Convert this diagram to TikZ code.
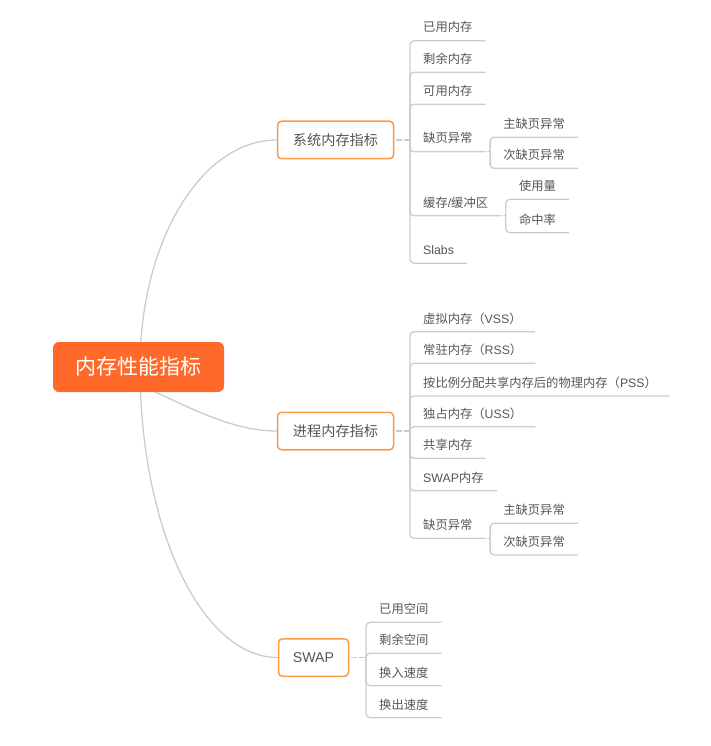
\documentclass[tikz,border=0pt]{standalone}
\usepackage{fontspec}
\setmainfont{Noto Sans CJK SC}
\newfontfamily\lat{Liberation Sans}
\definecolor{txt}{HTML}{555555}
\definecolor{ln}{HTML}{C9CCCE}
\definecolor{obord}{HTML}{FA9A48}
\definecolor{rootc}{HTML}{FF6A2A}
\begin{document}
\begin{tikzpicture}[x=1pt,y=-1pt,
 leaf/.style={anchor=south west, inner xsep=13pt, inner ysep=0pt, minimum height=26pt,
   font=\fontsize{12.3}{14}\selectfont, text=txt, text height=9pt, text depth=0pt},
 branch/.style={draw=obord, line width=1.5pt, rounded corners=4pt, fill=white, text=txt,
   font=\fontsize{14.2}{16}\selectfont, minimum height=37.5pt, text height=10.4pt, text depth=0pt},
 rootbox/.style={fill=rootc, rounded corners=6pt, text=white, font=\fontsize{21}{24}\selectfont,
   minimum width=171pt, minimum height=50pt, text height=15.4pt, text depth=0pt},
 conn/.style={draw=ln, line width=1.3pt},
 tree/.style={conn, rounded corners=4pt},
 dconn/.style={conn, dash pattern=on 6pt off 2pt},
]
\useasboundingbox (0,0) rectangle (710,746);

% branch boxes
\node[branch, minimum width=116pt] (sys) at (335.5,140) {系统内存指标};
\node[branch, minimum width=116pt] (proc) at (335.5,431) {进程内存指标};
\node[branch, minimum width=70pt] (swp) at (313.5,657.5) {\lat SWAP};

% curves from root
\coordinate (rc) at (140,367);
\coordinate (rc2) at (140,385);
\draw[conn] (rc) .. controls (140,242) and (201,140) .. (sys.west);
\draw[conn] (rc2) .. controls (185,405) and (230,431) .. (proc.west);
\draw[conn] (rc) .. controls (140,527) and (201,657.5) .. (swp.west);

\node[rootbox] (root) at (138.5,367) {内存性能指标};

% ---------- system ----------
\coordinate (sV) at (410,140);
\draw[dconn] ([xshift=2pt]sys.east) -- (sV);
\node[leaf] (a1) at (410,40.7) {已用内存};
\node[leaf] (a2) at (410,72.3) {剩余内存};
\node[leaf] (a3) at (410,104.3) {可用内存};
\node[leaf] (a4) at (410,151.7) {缺页异常};
\node[leaf] (a5) at (410,215.7) {缓存{\lat /}缓冲区};
\node[leaf] (a6) at (410,263.3) {\lat Slabs};
\foreach \i in {1,...,6} \draw[tree] (sV) |- (a\i.south east);

\coordinate (a4V) at ([xshift=4.5pt]a4.south east);
\draw[conn] ([xshift=1.5pt]a4.south east) -- (a4V);
\node[leaf] (a41) at ([yshift=14.5pt]a4V) {主缺页异常};
\node[leaf] (a42) at ([yshift=-16.6pt]a4V) {次缺页异常};
\draw[tree] (a4V) |- (a41.south east);
\draw[tree] (a4V) |- (a42.south east);

\coordinate (a5V) at ([xshift=4.5pt]a5.south east);
\draw[conn] ([xshift=1.5pt]a5.south east) -- (a5V);
\node[leaf] (a51) at ([yshift=16.4pt]a5V) {使用量};
\node[leaf] (a52) at ([yshift=-17pt]a5V) {命中率};
\draw[tree] (a5V) |- (a51.south east);
\draw[tree] (a5V) |- (a52.south east);

% ---------- process ----------
\coordinate (pV) at (410,431);
\draw[dconn] ([xshift=2pt]proc.east) -- (pV);
\node[leaf] (b1) at (410,331.7) {虚拟内存（{\lat VSS}）};
\node[leaf] (b2) at (410,363.3) {常驻内存（{\lat RSS}）};
\node[leaf] (b3) at (410,396) {按比例分配共享内存后的物理内存（{\lat PSS}）};
\node[leaf] (b4) at (410,426.7) {独占内存（{\lat USS}）};
\node[leaf] (b5) at (410,458.3) {共享内存};
\node[leaf] (b6) at (410,490.7) {{\lat SWAP}内存};
\node[leaf] (b7) at (410,538.3) {缺页异常};
\foreach \i in {1,...,7} \draw[tree] (pV) |- (b\i.south east);

\coordinate (b7V) at ([xshift=4.5pt]b7.south east);
\draw[conn] ([xshift=1.5pt]b7.south east) -- (b7V);
\node[leaf] (b71) at ([yshift=15pt]b7V) {主缺页异常};
\node[leaf] (b72) at ([yshift=-16.7pt]b7V) {次缺页异常};
\draw[tree] (b7V) |- (b71.south east);
\draw[tree] (b7V) |- (b72.south east);

% ---------- swap ----------
\coordinate (wV) at (366,657.5);
\draw[dconn] ([xshift=2pt]swp.east) -- (wV);
\node[leaf] (c1) at (366,622.3) {已用空间};
\node[leaf] (c2) at (366,653.3) {剩余空间};
\node[leaf] (c3) at (366,685.7) {换入速度};
\node[leaf] (c4) at (366,717.7) {换出速度};
\foreach \i in {1,...,4} \draw[tree] (wV) |- (c\i.south east);
\end{tikzpicture}
\end{document}
